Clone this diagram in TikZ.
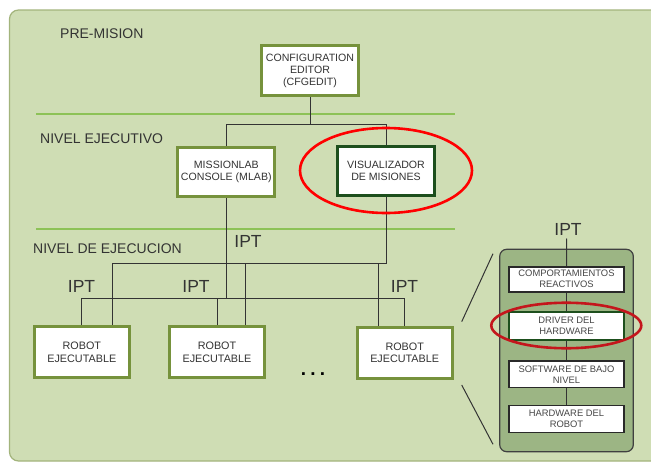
\documentclass[tikz,border=0pt]{standalone}
\usepackage{fontspec}
\setmainfont{Liberation Sans}
\usetikzlibrary{shapes.geometric}
\definecolor{bgc}{HTML}{CFDDB4}
\definecolor{bgborder}{HTML}{A3B47C}
\definecolor{olive}{HTML}{76923C}
\definecolor{darkgreen}{HTML}{1D4F1D}
\definecolor{sepgreen}{HTML}{8DC257}
\definecolor{txt}{HTML}{333333}
\definecolor{panelc}{HTML}{9CB584}
\definecolor{ringred}{HTML}{FF0000}
\definecolor{ringdark}{HTML}{C4161C}
\tikzset{
  mainbox/.style={draw=olive, line width=3pt, fill=white, align=center, text=txt,
    font=\fontsize{10.6}{12}\selectfont, inner sep=0pt},
  hibox/.style={mainbox, draw=darkgreen},
  robotbox/.style={mainbox, minimum width=95pt, minimum height=51pt, font=\fontsize{10.8}{12.3}\selectfont},
  layerbox/.style={draw=txt!80!black, line width=1.6pt, fill=white, align=center, text=txt!90,
    font=\fontsize{9.4}{11}\selectfont, minimum width=115pt, inner sep=0pt},
  levellabel/.style={text=txt, font=\fontsize{14}{16}\selectfont, inner sep=0pt},
  ipt/.style={text=txt, font=\fontsize{17.5}{18}\selectfont, inner sep=0pt},
  conn/.style={draw=txt, line width=1pt},
  sepline/.style={draw=sepgreen, line width=1.6pt},
  ring/.style={ellipse, draw=ringred, line width=2.6pt, inner sep=0pt},
}
\begin{document}
\begin{tikzpicture}[x=1pt,y=-1pt]
\useasboundingbox (0,0) rectangle (651,463);
\clip (0,0) rectangle (651,463);
% background panel
\draw[fill=bgc, draw=bgborder, line width=1.2pt, rounded corners=9pt] (9.5,10) rectangle (680,461);
% separators
\draw[sepline] (36,114) -- (455,114);
\draw[sepline] (36,229) -- (455,229);
% level labels
\node[levellabel, anchor=west] (lpre) at (60,34) {PRE-MISION};
\node[levellabel, anchor=west] (lexe) at (40,139) {NIVEL EJECUTIVO};
\node[levellabel, anchor=west] (lejc) at (33,248.3) {NIVEL DE EJECUCION};
% top boxes
\node[mainbox, minimum width=97pt, minimum height=50pt] (cfg) at (310,70.5) {CONFIGURATION\\EDITOR\\(CFGEDIT)};
\node[mainbox, minimum width=97pt, minimum height=49.5pt] (mlab) at (226.3,171.8) {MISSIONLAB\\CONSOLE (MLAB)};
\node[hibox, minimum width=97pt, minimum height=49pt] (vis) at (386,171.3) {VISUALIZADOR\\DE MISIONES};
% robots
\node[robotbox] (r1) at (81.8,352.2) {ROBOT\\EJECUTABLE};
\node[robotbox] (r2) at (217,352.2) {ROBOT\\EJECUTABLE};
\node[robotbox] (r3) at (404.7,352.5) {ROBOT\\EJECUTABLE};
\node[text=black, font=\fontsize{19}{19}\selectfont\bfseries, inner sep=0pt, anchor=base] (dots) at (313,375) {.\hspace{4.2pt}.\hspace{4.2pt}.};
% junction coordinates
\coordinate (jc) at (310,124.7);
\coordinate (vbus) at (386,263.3);
\coordinate (mbus) at (226.3,298.5);
% config to executive level
\draw[conn] (cfg.south) -- (jc);
\draw[conn] (mlab.north) -- (mlab.north |- jc) -- (vis.north |- jc) -- (vis.north);
% visualizador network
\coordinate (v1) at (112.3,263.3);
\coordinate (v2) at (245,263.3);
\coordinate (v3) at (378.7,263.3);
\draw[conn] (vis.south) -- (vbus) -- (v1);
\draw[conn] (v1) -- (v1 |- r1.north);
\draw[conn] (v2) -- (v2 |- r2.north);
\draw[conn] (v3) -- (v3 |- r3.north);
% missionlab network
\draw[conn] (mlab.south) -- (mbus);
\draw[conn] (r1.north) -- (r1.north |- mbus) -- (r3.north |- mbus) -- (r3.north);
\draw[conn] (r2.north) -- (r2.north |- mbus);
% IPT labels
\node[ipt] (ipt0) at (248,241.5) {IPT};
\node[ipt] (ipt1) at (81.5,286.5) {IPT};
\node[ipt] (ipt2) at (196,286.5) {IPT};
\node[ipt] (ipt3) at (404.5,286.5) {IPT};
% right detail panel
\draw[fill=panelc, draw=black!75, line width=1.2pt, rounded corners=7pt] (499.7,249.3) rectangle (633.3,451.7);
\node[ipt] (ipt4) at (568,229.5) {IPT};
\node[layerbox, minimum height=25pt] (comp) at (566.5,279.2) {COMPORTAMIENTOS\\REACTIVOS};
\node[layerbox, draw=darkgreen, minimum height=28pt] (drv) at (566.5,326) {DRIVER DEL\\HARDWARE};
\node[layerbox, minimum height=26.7pt] (soft) at (566.5,374.3) {SOFTWARE DE BAJO\\NIVEL};
\node[layerbox, minimum height=27.3pt] (hw) at (566.5,419) {HARDWARE DEL\\ROBOT};
\coordinate (itop) at (566.7,238.5);
\draw[conn] (itop) -- (comp.north);
\draw[conn] (comp.south) -- (drv.north);
\draw[conn] (drv.south) -- (soft.north);
\draw[conn] (soft.south) -- (hw.north);
% zoom lines
\coordinate (z1a) at (461.7,321.7);
\coordinate (z1b) at (493,253.7);
\coordinate (z2a) at (461.7,385);
\coordinate (z2b) at (493,444.3);
\draw[conn] (z1a) -- (z1b);
\draw[conn] (z2a) -- (z2b);
% highlight rings
\node[ring, minimum width=172pt, minimum height=85pt] (ring1) at (386,170.5) {};
\node[ring, draw=ringdark, minimum width=150pt, minimum height=45.5pt] (ring2) at (566.3,325.5) {};
\end{tikzpicture}
\end{document}
